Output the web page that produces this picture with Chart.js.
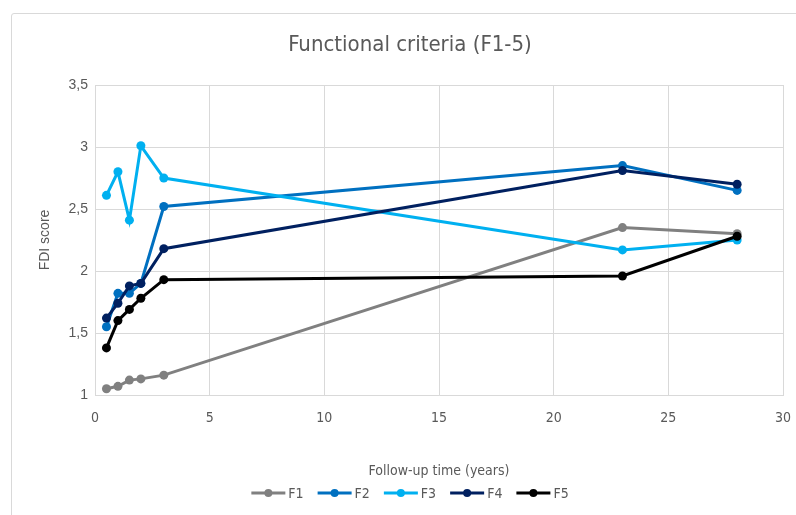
<!DOCTYPE html>
<html>
<head>
<meta charset="utf-8">
<script src="https://cdn.jsdelivr.net/npm/chart.js@4.4.1/dist/chart.umd.min.js"></script>
<style>
  html, body { margin: 0; padding: 0; background: #fff; overflow: hidden; width: 796px; height: 515px; }
  #box { position: absolute; left: 11px; top: 13px; width: 796px; height: 510px; border: 1px solid #d9d9d9; border-radius: 3px; }
  canvas { display: block; }
</style>
</head>
<body>
<div id="box"><canvas id="chart" width="796" height="510"></canvas></div>
<script>
const anos = [0.5, 1, 1.5, 2, 3, 23, 28];
const nomesSeries = ['F1', 'F2', 'F3', 'F4', 'F5'];
const f1 = [1.05, 1.07, 1.12, 1.13, 1.16, 2.35, 2.30];
const f2 = [1.55, 1.82, 1.82, 1.90, 2.52, 2.85, 2.65];
const f3 = [2.61, 2.80, 2.41, 3.01, 2.75, 2.17, 2.25];
const f4 = [1.62, 1.74, 1.88, 1.90, 2.18, 2.81, 2.70];
const f5 = [1.38, 1.60, 1.69, 1.78, 1.93, 1.96, 2.28];
const yTicks = [1, 1.5, 2, 2.5, 3, 3.5];
const xTicks = [0, 5, 10, 15, 20, 25, 30];
const titulo = 'Functional criteria (F1-5)';

const cores = ['#808080', '#0070C0', '#00B0F0', '#002060', '#000000'];
const valores = [f1, f2, f3, f4, f5];

const cinzaTexto = '#595959';
const fonteNarrow = '"Liberation Sans Narrow", "DejaVu Sans Condensed", sans-serif';
const fonteNormal = '"Liberation Sans", Arial, sans-serif';

const datasets = nomesSeries.map((nome, i) => ({
    label: nome,
    data: anos.map((x, j) => ({ x: x, y: valores[i][j] })),
    borderColor: cores[i],
    backgroundColor: cores[i],
    borderWidth: 3,
    pointRadius: 4.5,
    pointHoverRadius: 4.5,
    pointBorderWidth: 0,
    tension: 0,
    order: nomesSeries.length - i
}));

// Título e legenda estilo Excel (centrados no gráfico inteiro)
const tituloLegenda = {
    id: 'tituloLegenda',
    afterDraw(chart) {
        const ctx = chart.ctx;
        ctx.save();
        // título
        ctx.font = '22px ' + fonteNarrow;
        ctx.fillStyle = cinzaTexto;
        ctx.textAlign = 'center';
        ctx.textBaseline = 'middle';
        ctx.fillText(titulo, chart.width / 2, 31);

        // legenda
        const y = 479;
        const simbolo = 34;
        const gapTexto = 3;
        const gapItem = 14;
        ctx.font = '14px ' + fonteNarrow;
        const larguras = nomesSeries.map(n => ctx.measureText(n).width);
        const total = larguras.reduce((s, w) => s + simbolo + gapTexto + w, 0) + gapItem * (nomesSeries.length - 1);
        let x = chart.width / 2 - total / 2;
        nomesSeries.forEach((nome, i) => {
            ctx.strokeStyle = cores[i];
            ctx.fillStyle = cores[i];
            ctx.lineWidth = 3;
            ctx.beginPath();
            ctx.moveTo(x, y);
            ctx.lineTo(x + simbolo, y);
            ctx.stroke();
            ctx.beginPath();
            ctx.arc(x + simbolo / 2, y, 4, 0, Math.PI * 2);
            ctx.fill();
            ctx.fillStyle = cinzaTexto;
            ctx.textAlign = 'left';
            ctx.fillText(nome, x + simbolo + gapTexto, y + 1);
            x += simbolo + gapTexto + larguras[i] + gapItem;
        });
        ctx.restore();
    }
};

new Chart(document.getElementById('chart'), {
    type: 'line',
    data: { datasets: datasets },
    plugins: [tituloLegenda],
    options: {
        responsive: false,
        animation: false,
        devicePixelRatio: 1,
        layout: { padding: { left: 0, right: 25, top: 71, bottom: 42 } },
        plugins: {
            legend: { display: false },
            tooltip: { enabled: false },
            title: { display: false }
        },
        scales: {
            x: {
                type: 'linear',
                min: 0,
                max: 30,
                afterBuildTicks: s => { s.ticks = xTicks.map(v => ({ value: v })); },
                afterFit: s => { s.height = 87; },
                grid: { color: '#d9d9d9', drawTicks: false },
                border: { color: '#d9d9d9' },
                ticks: {
                    color: cinzaTexto,
                    padding: 15,
                    font: { family: fonteNarrow, size: 14 }
                },
                title: {
                    display: true,
                    text: 'Follow-up time (years)',
                    color: cinzaTexto,
                    font: { family: fonteNarrow, size: 14 },
                    padding: { top: 4, bottom: 2 }
                }
            },
            y: {
                min: 1,
                max: 3.5,
                afterBuildTicks: s => { s.ticks = yTicks.map(v => ({ value: v })); },
                afterFit: s => { s.width = 83; },
                grid: { color: '#d9d9d9', drawTicks: false },
                border: { color: '#d9d9d9' },
                ticks: {
                    color: cinzaTexto,
                    padding: 7,
                    font: { family: fonteNormal, size: 14 },
                    callback: v => String(v).replace('.', ',')
                },
                title: {
                    display: true,
                    text: 'FDI score',
                    color: cinzaTexto,
                    font: { family: fonteNormal, size: 14 },
                    padding: { top: 25, bottom: 0 }
                }
            }
        }
    }
});
</script>
</body>
</html>
